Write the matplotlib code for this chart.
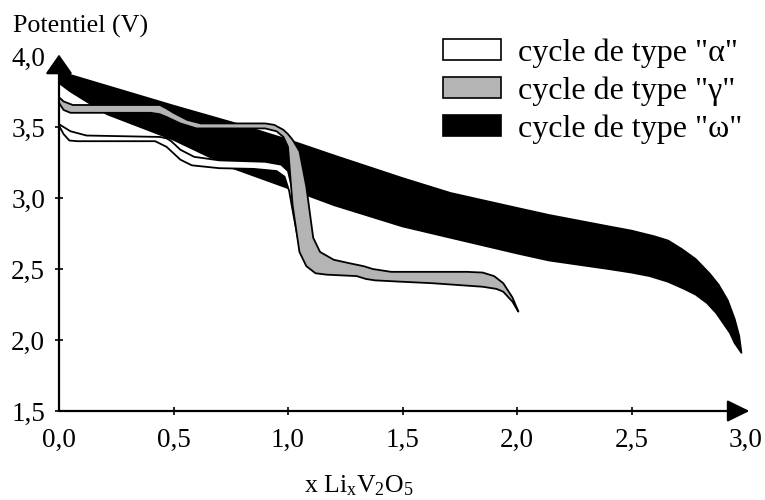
import matplotlib
matplotlib.use("Agg")
import matplotlib.pyplot as plt
from matplotlib.patches import Patch
import numpy as np

plt.rcParams['font.family'] = ['Liberation Serif', 'DejaVu Serif']
plt.rcParams['mathtext.fontset'] = 'custom'
plt.rcParams['mathtext.rm'] = 'Liberation Serif'
plt.rcParams['mathtext.it'] = 'Liberation Serif:italic'

# cycle "omega" (black band)
x_w_up = [0, 0.25, 0.5, 0.76, 1.0, 1.2, 1.5, 1.71, 2.0, 2.14, 2.4, 2.5, 2.6, 2.66, 2.72, 2.78, 2.84, 2.88, 2.92, 2.95, 2.97, 2.98]
v_w_up = [3.89, 3.77, 3.65, 3.53, 3.41, 3.30, 3.14, 3.035, 2.93, 2.88, 2.80, 2.77, 2.73, 2.70, 2.64, 2.57, 2.47, 2.39, 2.28, 2.15, 2.03, 1.91]
x_w_lo = [0, 0.05, 0.12, 0.21, 0.5, 0.76, 1.0, 1.2, 1.5, 1.71, 2.0, 2.14, 2.4, 2.5, 2.58, 2.66, 2.73, 2.78, 2.83, 2.87, 2.90, 2.93, 2.95, 2.98]
v_w_lo = [3.81, 3.75, 3.68, 3.59, 3.41, 3.21, 3.07, 2.95, 2.80, 2.72, 2.61, 2.56, 2.50, 2.475, 2.45, 2.41, 2.36, 2.32, 2.26, 2.19, 2.12, 2.05, 1.98, 1.91]

# cycle "gamma" (grey band)
x_g_up = [0, 0.02, 0.06, 0.44, 0.47, 0.50, 0.56, 0.62, 0.90, 0.94, 0.98, 1.00, 1.02, 1.05, 1.08, 1.11, 1.14, 1.20, 1.27, 1.33, 1.37, 1.45, 1.56, 1.78, 1.85, 1.90, 1.94, 1.98, 2.006]
v_g_up = [3.71, 3.68, 3.655, 3.655, 3.63, 3.60, 3.55, 3.525, 3.525, 3.515, 3.48, 3.45, 3.41, 3.33, 3.08, 2.72, 2.62, 2.565, 2.54, 2.52, 2.50, 2.48, 2.48, 2.48, 2.475, 2.45, 2.40, 2.30, 2.20]
x_g_lo = [0, 0.02, 0.05, 0.40, 0.44, 0.47, 0.53, 0.60, 0.90, 0.95, 0.98, 1.00, 1.02, 1.05, 1.08, 1.12, 1.17, 1.30, 1.34, 1.38, 1.50, 1.63, 1.85, 1.91, 1.94, 1.98, 2.006]
v_g_lo = [3.67, 3.62, 3.60, 3.60, 3.59, 3.57, 3.525, 3.49, 3.49, 3.47, 3.43, 3.36, 2.95, 2.62, 2.52, 2.47, 2.46, 2.45, 2.43, 2.42, 2.41, 2.40, 2.375, 2.36, 2.34, 2.27, 2.20]

# cycle "alpha" (white band)
x_a_up = [0, 0.05, 0.12, 0.44, 0.47, 0.49, 0.53, 0.59, 0.70, 0.90, 0.97, 1.00, 1.02, 1.035, 1.05, 1.055]
v_a_up = [3.52, 3.47, 3.44, 3.43, 3.42, 3.40, 3.34, 3.29, 3.265, 3.255, 3.235, 3.19, 3.05, 2.85, 2.70, 2.65]
x_a_lo = [0, 0.02, 0.045, 0.08, 0.42, 0.47, 0.53, 0.58, 0.70, 0.85, 0.95, 0.985, 1.005, 1.025, 1.045, 1.055]
v_a_lo = [3.51, 3.45, 3.405, 3.40, 3.40, 3.36, 3.27, 3.23, 3.21, 3.205, 3.19, 3.15, 3.05, 2.87, 2.70, 2.65]

labels = ['cycle de type "\u03b1"', 'cycle de type "\u03b3"', 'cycle de type "\u03c9"']
colors = ['white', '#b4b4b4', 'black']

xticks = [0.0, 0.5, 1.0, 1.5, 2.0, 2.5, 3.0]
yticks = [1.5, 2.0, 2.5, 3.0, 3.5, 4.0]

fig = plt.figure(figsize=(7.65, 5.0), dpi=100)
ax = fig.add_axes([59/765, 1-411/500, (746-59)/765, (411-56)/500])

def band(xu, vu, xl, vl, color, z):
    xs = np.concatenate([xu, xl[::-1]])
    ys = np.concatenate([vu, vl[::-1]])
    ax.fill(xs, ys, facecolor=color, edgecolor='black', linewidth=1.3,
            joinstyle='round', zorder=z)

band(np.array(x_w_up), np.array(v_w_up), np.array(x_w_lo), np.array(v_w_lo), colors[2], 2)
band(np.array(x_a_up), np.array(v_a_up), np.array(x_a_lo), np.array(v_a_lo), colors[0], 3)
band(np.array(x_g_up), np.array(v_g_up), np.array(x_g_lo), np.array(v_g_lo), colors[1], 4)

ax.set_xlim(0, 3.0)
ax.set_ylim(1.5, 4.0)
for s in ax.spines.values():
    s.set_visible(False)

ax.annotate('', xy=(0, 4.01), xytext=(0, 1.5),
            arrowprops=dict(arrowstyle='-|>,head_length=0.5,head_width=0.35',
                            mutation_scale=24, lw=1.6, color='black',
                            shrinkA=0, shrinkB=0), annotation_clip=False, zorder=5)
ax.annotate('', xy=(3.015, 1.5), xytext=(0, 1.5),
            arrowprops=dict(arrowstyle='-|>,head_length=0.57,head_width=0.28',
                            mutation_scale=24, lw=1.6, color='black',
                            shrinkA=0, shrinkB=0), annotation_clip=False, zorder=5)

ax.set_xticks(xticks)
ax.set_yticks(yticks)
ax.set_xticklabels([f"{t:.1f}".replace('.', ',') for t in xticks])
ax.set_yticklabels([f"{t:.1f}".replace('.', ',') for t in yticks])
ax.tick_params(axis='both', direction='inout', length=6, width=1.2, labelsize=19.5)
ax.tick_params(axis='x', pad=9)
ax.tick_params(axis='y', pad=7)
ax.yaxis.get_major_ticks()[-1].tick1line.set_visible(False)
ax.xaxis.get_major_ticks()[-1].tick1line.set_visible(False)
ax.xaxis.get_major_ticks()[0].tick1line.set_visible(False)

fig.text(13/765, 1-33/500, 'Potentiel (V)', ha='left', va='baseline', fontsize=18.7)
fig.text(359/765, 1-492/500, r'x Li$_\mathrm{x}$V$_2$O$_5$', ha='center', va='baseline', fontsize=18.5)

handles = [Patch(facecolor=c, edgecolor='black', linewidth=1.2) for c in colors]
fig.legend(handles, labels, loc='upper left', bbox_to_anchor=(443/765, 1-38/500),
           frameon=False, fontsize=23, handlelength=1.8, handleheight=0.62,
           handletextpad=0.55, labelspacing=0.27, borderpad=0, borderaxespad=0)

fig.savefig('out.png', dpi=100)
